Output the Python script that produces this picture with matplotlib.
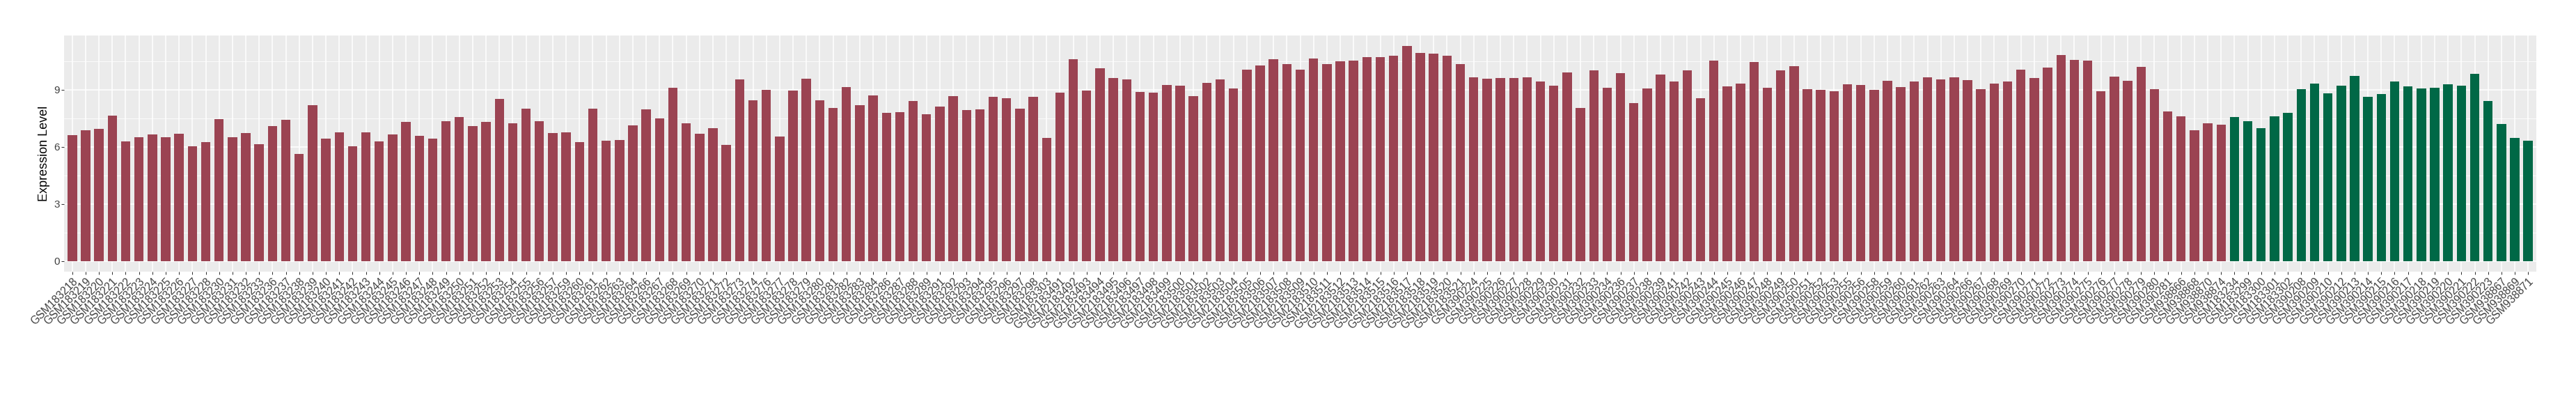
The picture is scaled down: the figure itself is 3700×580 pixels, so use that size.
import numpy as np
import matplotlib.pyplot as plt
import matplotlib.transforms as mtransforms

plt.rcParams['font.family'] = ['Liberation Sans', 'DejaVu Sans']

# red group
gsm1832_ids = ['GSM183218', 'GSM183219', 'GSM183220', 'GSM183221', 'GSM183222', 'GSM183223', 'GSM183224',
               'GSM183225', 'GSM183226', 'GSM183227', 'GSM183228', 'GSM183230', 'GSM183231', 'GSM183232',
               'GSM183233', 'GSM183236', 'GSM183237', 'GSM183238', 'GSM183239', 'GSM183240', 'GSM183241',
               'GSM183242', 'GSM183243', 'GSM183244', 'GSM183245', 'GSM183246', 'GSM183247', 'GSM183248',
               'GSM183249', 'GSM183250', 'GSM183251', 'GSM183252', 'GSM183253', 'GSM183254', 'GSM183255',
               'GSM183256', 'GSM183257', 'GSM183259', 'GSM183260', 'GSM183261', 'GSM183262', 'GSM183263',
               'GSM183264', 'GSM183266', 'GSM183267', 'GSM183268', 'GSM183269', 'GSM183270', 'GSM183271',
               'GSM183272', 'GSM183273', 'GSM183274', 'GSM183276', 'GSM183277', 'GSM183278', 'GSM183279',
               'GSM183280', 'GSM183281', 'GSM183282', 'GSM183283', 'GSM183284', 'GSM183286', 'GSM183287',
               'GSM183288', 'GSM183289', 'GSM183291', 'GSM183292', 'GSM183293', 'GSM183294', 'GSM183295',
               'GSM183296', 'GSM183297', 'GSM183298', 'GSM183303']
gsm1832_expr = [6.61, 6.87, 6.94, 7.63, 6.28, 6.51, 6.67, 6.51, 6.70, 6.04, 6.24, 7.46, 6.51, 6.74,
                6.14, 7.11, 7.44, 5.62, 8.19, 6.45, 6.78, 6.04, 6.78, 6.28, 6.64, 7.30, 6.57, 6.45,
                7.34, 7.56, 7.11, 7.30, 8.52, 7.23, 8.02, 7.34, 6.74, 6.78, 6.24, 8.02, 6.31, 6.37,
                7.13, 7.96, 7.50, 9.12, 7.23, 6.70, 7.00, 6.12, 9.55, 8.45, 8.99, 6.54, 8.95, 9.57,
                8.45, 8.06, 9.15, 8.19, 8.72, 7.77, 7.83, 8.42, 7.73, 8.12, 8.68, 7.92, 7.96, 8.62,
                8.56, 8.00, 8.62, 6.47]

gsm2183_ids = ['GSM2183491', 'GSM2183492', 'GSM2183493', 'GSM2183494', 'GSM2183495', 'GSM2183496',
               'GSM2183497', 'GSM2183498', 'GSM2183499', 'GSM2183500', 'GSM2183501', 'GSM2183502',
               'GSM2183503', 'GSM2183504', 'GSM2183505', 'GSM2183506', 'GSM2183507', 'GSM2183508',
               'GSM2183509', 'GSM2183510', 'GSM2183511', 'GSM2183512', 'GSM2183513', 'GSM2183514',
               'GSM2183515', 'GSM2183516', 'GSM2183517', 'GSM2183518', 'GSM2183519', 'GSM2183520',
               'GSM2183521']
gsm2183_expr = [8.85, 10.60, 8.95, 10.13, 9.61, 9.55, 8.89, 8.85, 9.24, 9.22, 8.66, 9.38, 9.55, 9.08,
                10.07, 10.27, 10.60, 10.37, 10.07, 10.63, 10.34, 10.50, 10.54, 10.73, 10.73, 10.79,
                11.29, 10.93, 10.90, 10.79, 10.37]

gsm3902_ids = ['GSM390224', 'GSM390225', 'GSM390226', 'GSM390227', 'GSM390228', 'GSM390229', 'GSM390230',
               'GSM390231', 'GSM390232', 'GSM390233', 'GSM390234', 'GSM390236', 'GSM390237', 'GSM390238',
               'GSM390239', 'GSM390241', 'GSM390242', 'GSM390243', 'GSM390244', 'GSM390245', 'GSM390246',
               'GSM390247', 'GSM390248', 'GSM390249', 'GSM390250', 'GSM390251', 'GSM390252', 'GSM390253',
               'GSM390255', 'GSM390256', 'GSM390258', 'GSM390259', 'GSM390260', 'GSM390261', 'GSM390262',
               'GSM390263', 'GSM390264', 'GSM390266', 'GSM390267', 'GSM390268', 'GSM390269', 'GSM390270',
               'GSM390271', 'GSM390272', 'GSM390273', 'GSM390274', 'GSM390275', 'GSM390276', 'GSM390277',
               'GSM390278', 'GSM390279', 'GSM390280', 'GSM390281']
gsm3902_expr = [9.67, 9.57, 9.61, 9.61, 9.65, 9.45, 9.22, 9.90, 8.06, 10.04, 9.12, 9.88, 8.29, 9.08,
                9.80, 9.45, 10.01, 8.56, 10.54, 9.18, 9.34, 10.46, 9.12, 10.04, 10.23, 9.05, 8.99, 8.91,
                9.28, 9.24, 9.01, 9.47, 9.15, 9.45, 9.67, 9.55, 9.65, 9.51, 9.05, 9.32, 9.45, 10.07,
                9.61, 10.17, 10.83, 10.56, 10.54, 8.91, 9.71, 9.47, 10.21, 9.05, 7.86]

gsm9388_ids = ['GSM938866', 'GSM938868', 'GSM938870', 'GSM938874']
gsm9388_expr = [7.59, 6.87, 7.23, 7.17]

# green group
ctrl_ids = ['GSM183234', 'GSM183299', 'GSM183300', 'GSM183301', 'GSM183302', 'GSM390208', 'GSM390209',
            'GSM390210', 'GSM390212', 'GSM390213', 'GSM390214', 'GSM390215', 'GSM390216', 'GSM390217',
            'GSM390218', 'GSM390219', 'GSM390220', 'GSM390221', 'GSM390222', 'GSM390223', 'GSM938867',
            'GSM938869', 'GSM938871']
ctrl_expr = [7.56, 7.36, 6.97, 7.59, 7.79, 9.05, 9.32, 8.82, 9.22, 9.74, 8.62, 8.78, 9.45, 9.18,
             9.08, 9.12, 9.28, 9.22, 9.84, 8.42, 7.20, 6.47, 6.34]

red = '#9B4352'
green = '#006846'

case_ids = gsm1832_ids + gsm2183_ids + gsm3902_ids + gsm9388_ids
case_expr = gsm1832_expr + gsm2183_expr + gsm3902_expr + gsm9388_expr
ids = case_ids + ctrl_ids
expr = np.array(case_expr + ctrl_expr)
cols = [red] * len(case_ids) + [green] * len(ctrl_ids)
x = np.arange(len(ids))

W, H = 3700, 580
fig = plt.figure(figsize=(W / 100, H / 100), dpi=100)
ax = fig.add_axes([92.3 / W, 1 - 390 / H, (3642.7 - 92.3) / W, (390 - 51) / H])
ax.set_facecolor('#EBEBEB')

ax.bar(x, expr, width=0.7, color=cols, zorder=2)

ax.set_xlim(-0.6, len(ids) - 1 + 0.6)
top = expr.max()
ax.set_ylim(-0.05 * top, 1.05 * top)

ax.set_yticks([0, 3, 6, 9])
ax.set_yticks([1.5, 4.5, 7.5, 10.5], minor=True)
ax.set_xticks(x)
ax.set_xticklabels(ids, rotation=45, ha='right', va='top', rotation_mode='anchor', fontsize=11.3, color='#404040')
shift = mtransforms.ScaledTranslation(3 / 100, 0, fig.dpi_scale_trans)
for lab in ax.get_xticklabels():
    lab.set_transform(lab.get_transform() + shift)
ax.tick_params(axis='y', labelsize=11, labelcolor='#404040')
ax.tick_params(which='major', length=2.9, width=0.75, color='#333333', pad=1.6)
ax.tick_params(which='minor', length=0)

ax.grid(which='major', color='white', linewidth=1.1, zorder=0)
ax.grid(which='minor', axis='y', color='white', linewidth=0.55, zorder=0)
ax.set_axisbelow(True)
for s in ax.spines.values():
    s.set_visible(False)

ax.set_ylabel('Expression Level', fontsize=13, labelpad=4)

fig.savefig('out.png', dpi=100, facecolor='white')
